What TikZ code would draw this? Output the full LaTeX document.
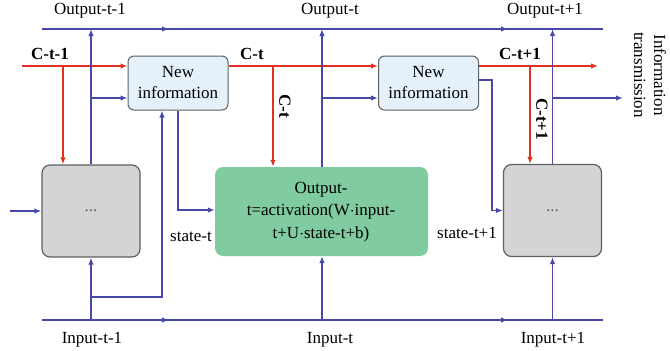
\documentclass[tikz,border=0pt]{standalone}
\usepackage{fontspec}
\setmainfont{Liberation Serif}
\usetikzlibrary{arrows.meta,positioning}
\definecolor{flowblue}{RGB}{72,72,168}
\definecolor{cellred}{RGB}{226,48,36}
\definecolor{infofill}{RGB}{228,240,250}
\definecolor{cellgray}{RGB}{212,212,215}
\definecolor{actgreen}{RGB}{128,204,160}
\definecolor{edgegray}{RGB}{95,95,95}

\begin{document}
\begin{tikzpicture}[x=1pt, y=-1pt,
    font=\fontsize{17}{21}\selectfont,
    flow/.style={draw=flowblue, line width=1.6pt},
    cline/.style={draw=cellred, line width=2pt},
    tip/.style={-{Latex[length=7pt,width=5.5pt]}},
    infobox/.style={draw=edgegray, line width=1pt, rounded corners=6pt, fill=infofill,
        minimum width=100pt, minimum height=54pt, align=center, inner sep=1pt},
    cellbox/.style={draw=edgegray, line width=1.2pt, rounded corners=8pt, fill=cellgray,
        minimum width=98pt, minimum height=92pt}]
            \useasboundingbox (0,0) rectangle (670,351);

            % Boxes
            \node[infobox] (infoA) at (178,83) {New\\information};
            \node[infobox] (infoB) at (428.5,83) {New\\information};
            \node[cellbox] (cellA) at (91,211) {\color{edgegray}...};
            \node[cellbox] (cellB) at (552.5,210.5) {\color{edgegray}...};
            \node[fill=actgreen, rounded corners=8pt, minimum width=213pt, minimum height=89pt] (act) at (321.5,211.5) {};
            \node[align=center, font=\fontsize{17}{22.5}\selectfont] (acttext) at (321,212)
                {Output-\\t=activation(W$\cdot$input-\\t+U$\cdot$state-t+b)};

            % Output line
            \coordinate (outL) at (42,29);
            \coordinate (outM1) at (169,29);
            \coordinate (outM2) at (508,29);
            \coordinate (outR) at (603,29);
            \draw[flow] (outL) -- (outR);
            \draw[flow, tip] (outL) -- (outM1);
            \draw[flow, tip] (outM1) -- (outM2);
            \node (outA) at (90,11) {Output-t-1};
            \node (outB) at (330,11) {Output-t};
            \node (outC) at (545,11) {Output-t+1};

            % Input line
            \coordinate (inL) at (42,320);
            \coordinate (inM1) at (169,320);
            \coordinate (inM2) at (508,320);
            \coordinate (inR) at (603,320);
            \draw[flow] (inL) -- (inR);
            \draw[flow, tip] (inL) -- (inM1);
            \draw[flow, tip] (inM1) -- (inM2);
            \node (inA) at (92,340) {Input-t-1};
            \node (inB) at (330,340) {Input-t};
            \node (inC) at (553,340) {Input-t+1};

            % Cell state line
            \coordinate (cStart) at (22,66);
            \coordinate (cEnd) at (598,66);
            \coordinate (cA) at (63,66);
            \coordinate (cB) at (273,66);
            \coordinate (cC) at (530,66);
            \draw[cline, tip] (cStart) -- (cStart -| infoA.west);
            \draw[cline, tip] (cStart -| infoA.east) -- (cStart -| infoB.west);
            \draw[cline, tip] (cStart -| infoB.east) -- (cEnd);
            \node[font=\fontsize{17}{21}\selectfont\bfseries] (cLabA) at (50,54) {C-t-1};
            \node[font=\fontsize{17}{21}\selectfont\bfseries] (cLabB) at (252,54) {C-t};
            \node[font=\fontsize{17}{21}\selectfont\bfseries] (cLabC) at (520,54) {C-t+1};
            \draw[cline, tip] (cA) -- (cA |- cellA.north);
            \draw[cline, tip] (cB) -- (cB |- act.north);
            \draw[cline, tip] (cC) -- (cC |- cellB.north);
            \node[rotate=-90, font=\fontsize{17}{21}\selectfont\bfseries] (cLabD) at (285,106) {C-t};
            \node[rotate=-90, font=\fontsize{17}{21}\selectfont\bfseries] (cLabE) at (542,119) {C-t+1};

            % Step t-1
            \coordinate (branchA) at (91,98);
            \coordinate (feedA) at (91,297);
            \coordinate (upA) at (162,297);
            \draw[flow, tip] (cellA.north) -- (cellA.north |- outL);
            \draw[flow, tip] (branchA) -- (branchA -| infoA.west);
            \draw[flow, tip] (feedA |- inL) -- (cellA.south);
            \draw[flow, tip] (feedA) -- (upA) -- (upA |- infoA.south);
            \draw[flow, tip] (10,211) -- (cellA.west);
            \coordinate (stateA) at (178,210);
            \draw[flow, tip] (stateA |- infoA.south) -- (stateA) -- (stateA -| act.west);
            \node (stateLabA) at (191,237) {state-t};

            % Step t
            \coordinate (branchB) at (322,98);
            \draw[flow, tip] (act.north -| branchB) -- (branchB |- outL);
            \draw[flow, tip] (branchB) -- (branchB -| infoB.west);
            \draw[flow, tip] (branchB |- inL) -- (branchB |- act.south);
            \coordinate (stateB) at (492,80);
            \draw[flow, tip] (stateB -| infoB.east) -- (stateB) -- (stateB |- cellB.west) -- (cellB.west);
            \node (stateLabB) at (467,233) {state-t+1};

            % Step t+1
            \coordinate (branchC) at (552.5,98);
            \coordinate (infoOut) at (623,98);
            \draw[flow, tip] (cellB.north) -- (cellB.north |- outL);
            \draw[flow, tip] (branchC) -- (infoOut);
            \draw[flow, tip] (cellB.south |- inL) -- (cellB.south);
            \node[rotate=-90, align=center, font=\fontsize{17}{20}\selectfont] (transLab) at (650,75) {Information\\transmission};
        \end{tikzpicture}
\end{document}
